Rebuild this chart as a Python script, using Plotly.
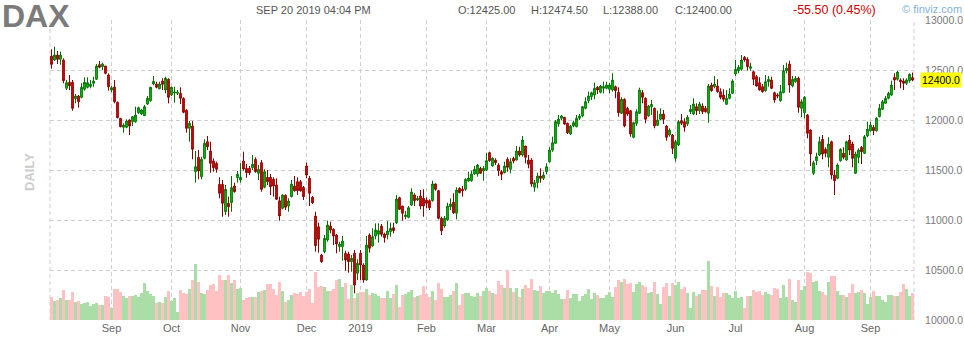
import pandas as pd
import plotly.graph_objects as go

# ---------------- data ----------------
holidays = ["2018-12-24", "2018-12-25", "2018-12-26", "2019-01-01",
            "2019-04-19", "2019-04-22", "2019-05-01"]
dates = [d.strftime("%Y-%m-%d") for d in pd.bdate_range("2018-08-06", "2019-09-20")
         if d.strftime("%Y-%m-%d") not in holidays]

opens = [12640,12600,12650,12607,12600,12317,12377,12377,12213,12240,
12227,12307,12327,12337,12367,12407,12553,12533,12540,12450,
12300,12330,12177,12017,11927,11927,12000,11983,11983,12073,
12060,12043,12160,12193,12360,12360,12313,12390,12300,12407,
12250,12270,12267,12267,12217,12097,11917,11940,11483,11627,
11433,11617,11783,11690,11590,11567,11357,11357,11083,11167,
11173,11340,11423,11400,11590,11517,11517,11523,11607,11467,
11573,11327,11427,11427,11407,11350,11193,11117,11247,11140,
11233,11340,11383,11383,11327,11540,11417,11227,11040,10933,
10650,10683,10800,10940,10907,10850,10733,10733,10667,10660,
10583,10667,10467,10667,10550,10400,10850,10740,10840,10857,
10940,10860,10850,10883,10923,10973,11223,11140,11033,11027,
11150,11250,11200,11240,11217,11200,11193,11193,11360,11293,
11017,10940,11000,11133,11177,11067,11317,11307,11307,11390,
11393,11460,11460,11517,11490,11500,11673,11540,11600,11550,
11483,11473,11607,11507,11617,11600,11690,11650,11740,11600,
11600,11327,11373,11440,11417,11483,11583,11700,11767,11960,
12017,12027,11967,11860,11940,11933,12017,12040,12117,12193,
12233,12250,12327,12277,12317,12317,12307,12300,12333,12277,
12067,12207,12117,12093,11827,11967,12067,12273,12217,12040,
12133,12117,11947,12007,12060,11940,11850,11850,11617,11750,
11993,11983,11960,12083,12060,12133,12093,12140,12117,12067,
12350,12333,12340,12283,12250,12157,12217,12267,12460,12493,
12507,12627,12607,12517,12483,12433,12373,12333,12293,12383,
12400,12273,12250,12193,12273,12493,12560,12340,12383,12417,
12117,12073,12050,11900,11467,11593,11650,11807,11707,11627,
11783,11450,11417,11593,11667,11600,11800,11760,11467,11627,
11727,11667,11840,11893,11927,11893,12033,12107,12167,12217,
12250,12427,12407,12400,12390,12367,12393,12425]

highs = [12707,12733,12690,12683,12617,12400,12450,12400,12260,12250,
12367,12427,12427,12400,12433,12560,12590,12573,12540,12467,
12340,12400,12183,12017,11967,12007,12007,12040,12133,12133,
12110,12150,12240,12333,12440,12383,12383,12417,12433,12417,
12333,12333,12300,12327,12227,12107,11990,11990,11690,11700,
11633,11807,11840,11783,11617,11583,11427,11400,11350,11233,
11440,11373,11490,11567,11683,11560,11540,11650,11627,11550,
11600,11507,11500,11460,11427,11417,11233,11257,11257,11217,
11400,11440,11427,11400,11340,11573,11440,11240,11083,10973,
10660,10850,10993,10983,10917,10860,10783,10840,10693,10683,
10650,10700,10607,10700,10567,10840,10867,10917,10967,10967,
10960,10873,10990,10973,10973,11250,11233,11140,11090,11140,
11317,11267,11240,11300,11307,11227,11207,11393,11367,11300,
11033,11040,11173,11217,11267,11327,11327,11340,11417,11483,
11493,11540,11560,11533,11540,11673,11683,11627,11617,11567,
11500,11583,11627,11617,11633,11740,11733,11840,11740,11650,
11617,11400,11473,11517,11483,11567,11727,11833,12000,12050,
12050,12027,11973,11950,11993,12050,12060,12140,12227,12283,
12283,12373,12340,12350,12383,12383,12373,12467,12343,12327,
12227,12217,12133,12100,11983,12107,12323,12300,12227,12150,
12200,12123,12093,12117,12100,11950,11917,11860,11800,12000,
12060,12017,12050,12150,12217,12167,12183,12167,12140,12360,
12373,12440,12407,12317,12307,12300,12317,12407,12600,12550,
12650,12640,12627,12573,12493,12450,12427,12360,12450,12440,
12433,12283,12267,12350,12550,12573,12593,12440,12440,12433,
12207,12240,12060,11907,11593,11673,11833,11850,11727,11827,
11793,11500,11567,11717,11727,11793,11850,11783,11683,11717,
11740,11850,11983,11983,11950,12027,12160,12200,12240,12283,
12393,12467,12490,12417,12417,12417,12467,12474.5]

lows = [12513,12593,12560,12553,12367,12300,12300,12093,12167,12123,
12217,12293,12317,12317,12333,12400,12517,12500,12457,12293,
12277,12167,12017,11927,11873,11917,11850,11940,11973,12060,
12050,12040,12150,12183,12347,12317,12307,12300,12267,12167,
12240,12173,12250,12160,12067,11873,11783,11607,11373,11407,
11407,11607,11700,11473,11483,11473,11217,11033,11050,11033,
11083,11273,11373,11373,11493,11423,11450,11500,11473,11400,
11283,11317,11350,11250,11233,11200,10993,11107,11100,11083,
11227,11283,11250,11283,11200,11417,11140,11160,10683,10673,
10573,10667,10783,10867,10750,10667,10683,10593,10493,10473,
10483,10267,10400,10400,10373,10393,10673,10733,10807,10773,
10833,10773,10807,10833,10867,10960,11100,10993,11007,11017,
11140,11140,11190,11107,11033,11117,11100,11183,11293,11007,
10850,10923,10993,11100,11060,11007,11267,11233,11293,11383,
11383,11450,11433,11460,11393,11493,11583,11533,11550,11440,
11400,11467,11483,11467,11567,11593,11633,11633,11567,11517,
11333,11283,11317,11373,11400,11457,11573,11683,11760,11933,
12000,11950,11860,11850,11927,11927,12000,12027,12107,12167,
12200,12207,12260,12267,12267,12307,12267,12283,12217,12033,
12060,11927,12040,11833,11817,11940,12060,12167,11967,12033,
12050,11917,11940,12000,11960,11793,11833,11660,11583,11740,
11950,11883,11940,12060,12050,12050,12060,12060,12073,11973,
12283,12317,12273,12207,12183,12150,12207,12260,12440,12467,
12493,12583,12493,12493,12350,12333,12293,12273,12283,12333,
12307,12173,12217,12183,12267,12467,12273,12327,12373,12073,
12027,12017,11817,11540,11450,11550,11640,11607,11627,11527,
11407,11250,11407,11583,11607,11593,11650,11527,11460,11567,
11560,11660,11827,11883,11850,11883,12027,12100,12160,12207,
12240,12300,12393,12317,12300,12350,12373,12388]

closes = [12557,12650,12607,12650,12393,12373,12343,12117,12240,12183,
12327,12377,12373,12357,12390,12540,12527,12560,12467,12333,
12323,12183,12023,11933,11950,11990,11940,12033,12050,12123,
12100,12133,12217,12327,12387,12327,12360,12357,12417,12227,
12327,12280,12277,12217,12077,11917,11967,11707,11533,11490,
11607,11767,11733,11567,11523,11507,11267,11167,11307,11133,
11323,11283,11457,11427,11510,11473,11473,11557,11483,11507,
11307,11483,11383,11333,11340,11207,11040,11250,11127,11190,
11360,11293,11293,11293,11233,11450,11267,11173,10743,10807,
10583,10817,10950,10900,10840,10760,10760,10790,10600,10583,
10617,10350,10567,10550,10400,10750,10717,10833,10900,10893,
10857,10823,10890,10917,10893,11210,11107,11067,11050,11123,
11280,11193,11217,11140,11140,11167,11123,11360,11307,11017,
10893,11017,11140,11160,11073,11300,11273,11293,11407,11420,
11460,11507,11550,11467,11517,11593,11593,11617,11573,11493,
11457,11540,11527,11583,11590,11690,11650,11800,11627,11557,
11360,11373,11440,11417,11450,11533,11700,11773,11983,12010,
12040,11960,11873,11940,11973,12017,12040,12133,12183,12240,
12273,12317,12300,12340,12333,12350,12350,12400,12293,12073,
12207,11940,12060,11860,11973,12083,12300,12227,12007,12140,
12157,11940,12000,12060,12007,11827,11900,11717,11783,11983,
11967,11927,12027,12107,12160,12093,12160,12083,12083,12340,
12293,12360,12283,12227,12207,12217,12260,12390,12507,12527,
12600,12600,12533,12533,12407,12340,12300,12283,12383,12407,
12317,12200,12240,12283,12493,12520,12350,12407,12417,12127,
12183,12227,11867,11660,11573,11633,11783,11660,11667,11760,
11450,11393,11550,11707,11627,11783,11700,11617,11660,11700,
11683,11833,11907,11950,11893,12017,12117,12183,12217,12267,
12350,12400,12480,12383,12367,12400,12455.5,12400]

volumes_k = [23,19,20,22,30,20,20,28,18,19,
16,17,18,14,16,17,15,15,24,23,
12,31,31,28,24,22,24,24,25,23,
27,37,29,26,24,17,18,17,23,29,
19,22,8,30,27,26,31,40,56,38,
27,26,30,35,36,29,45,40,40,45,
37,40,31,32,20,22,23,23,23,28,
29,30,36,36,31,25,38,29,18,20,
25,27,26,28,24,28,31,17,48,33,
34,33,29,29,31,40,41,33,37,21,
35,22,27,28,28,31,25,27,26,24,
22,22,29,22,26,35,13,25,26,28,
30,23,24,25,34,26,23,29,20,37,
31,23,23,25,29,37,15,26,27,27,
24,23,27,24,29,32,29,27,26,39,
35,32,50,32,28,32,23,31,35,32,
41,30,29,34,27,29,29,27,30,26,
21,21,30,22,26,26,19,24,26,31,
21,27,25,22,22,25,28,23,33,40,
38,41,36,37,28,36,38,35,33,27,
28,38,26,16,33,37,24,37,35,38,
31,33,27,12,28,24,26,30,30,59,
34,24,33,23,27,27,25,22,29,22,
23,12,24,24,30,28,29,25,28,26,
25,32,31,22,35,23,41,20,18,40,
30,34,48,47,38,39,29,28,25,38,
44,44,29,25,25,23,27,36,27,28,
30,27,16,23,29,24,24,20,18,25,
25,24,24,28,36,31,24,27]

month_labels = ["Sep", "Oct", "Nov", "Dec", "2019", "Feb", "Mar", "Apr",
                "May", "Jun", "Jul", "Aug", "Sep"]
price_ticks = [10000, 10500, 11000, 11500, 12000, 12500, 13000]

header_date = "SEP 20 2019 04:04 PM"
last_o, last_h, last_l, last_c = 12425.00, 12474.50, 12388.00, 12400.00
change, change_pct = -55.50, 0.45

# ---------------- figure ----------------
month_starts = [d for i, d in enumerate(dates) if i > 0 and d[:7] != dates[i - 1][:7]]

W, H = 964, 340
ML, MR, MT, MB = 50, 50, 20, 20
PW, PH = W - ML - MR, H - MT - MB


def px(x):
    return (x - ML) / PW


def py(y):
    return (H - MB - y) / PH


GRID = "#cfcfcf"
DASH = "4px,3px"
FONT = "Liberation Sans, Arial, sans-serif"

vol_colors = ["#aadea6" if c >= o else "#ffc1c1" for o, c in zip(opens, closes)]

fig = go.Figure()
fig.add_trace(go.Bar(x=dates, y=volumes_k, marker=dict(color=vol_colors, line=dict(width=0)),
                     yaxis="y", hoverinfo="skip", showlegend=False))
fig.add_trace(go.Candlestick(
    x=dates, open=opens, high=highs, low=lows, close=closes, yaxis="y2",
    increasing=dict(line=dict(color="#006e00", width=1), fillcolor="#00d400"),
    decreasing=dict(line=dict(color="#8a0000", width=1), fillcolor="#ee0000"),
    whiskerwidth=0, showlegend=False))

fig.update_layout(
    template="none",
    width=W, height=H, margin=dict(l=ML, r=MR, t=MT, b=MB, pad=0, autoexpand=False),
    paper_bgcolor="white", plot_bgcolor="white",
    bargap=0, boxgap=0.2,
    font=dict(family=FONT, size=11, color="#666666"),
    xaxis=dict(type="category", categoryorder="array", categoryarray=dates,
               range=[-0.5, len(dates) - 0.5], automargin=False,
               tickmode="array", tickvals=month_starts, ticktext=month_labels,
               showgrid=True, gridcolor=GRID, griddash=DASH, gridwidth=1,
               ticks="", showline=False, zeroline=False,
               tickfont=dict(family=FONT, size=11, color="#666666"),
               rangeslider=dict(visible=False), fixedrange=True),
    yaxis=dict(range=[0, 300], visible=False, showgrid=False, fixedrange=True,
               automargin=False),
    yaxis2=dict(overlaying="y", side="right", range=[10000, 13000], automargin=False,
                tickmode="array", tickvals=price_ticks,
                ticktext=[f"{v:.1f}" for v in price_ticks],
                showgrid=True, gridcolor=GRID, griddash=DASH, gridwidth=1,
                ticks="outside", ticklen=8, tickcolor="rgba(0,0,0,0)",
                showline=False, zeroline=False,
                tickfont=dict(family=FONT, size=10.5, color="#7a7a7a"), fixedrange=True),
    showlegend=False,
)

# dashed left and right border
for xx in (0, 1):
    fig.add_shape(type="line", xref="paper", yref="paper", x0=xx, x1=xx, y0=0, y1=1,
                  line=dict(color=GRID, width=1, dash=DASH), layer="below")

ann = []
ann.append(dict(text="<b>DAX</b>", x=px(1), y=py(-3), xanchor="left", yanchor="top",
                borderpad=0, font=dict(family=FONT, size=32, color="#7b7b7b")))
ann.append(dict(text="<b>DAILY</b>", x=px(30), y=py(172), xanchor="center", yanchor="middle",
                textangle=-90, font=dict(family=FONT, size=13, color="#cccccc")))
ann.append(dict(text=header_date, x=px(254), y=py(10), xanchor="left", yanchor="middle",
                font=dict(family=FONT, size=11, color="#555555")))
for lab, val, xpos in (("O", last_o, 456), ("H", last_h, 529), ("L", last_l, 601), ("C", last_c, 673)):
    ann.append(dict(text=f"{lab}:{val:.2f}", x=px(xpos), y=py(10), xanchor="left", yanchor="middle",
                    font=dict(family=FONT, size=11, color="#555555")))
ann.append(dict(text=f"{change:.2f} ({change_pct:.2f}%)", x=px(791), y=py(10),
                xanchor="left", yanchor="middle",
                font=dict(family=FONT, size=12.5, color="#cc0000")))
ann.append(dict(text="© finviz.com", x=px(900), y=py(9), xanchor="left", yanchor="middle",
                font=dict(family=FONT, size=11, color="#7fb2de")))
ann.append(dict(text=f"{last_c:.1f}", xref="paper", yref="y2", x=px(920), y=last_c,
                xanchor="left", yanchor="middle", bgcolor="#ffff00", borderpad=1,
                font=dict(family=FONT, size=10.5, color="#000000")))

for a in ann:
    a.setdefault("xref", "paper")
    a.setdefault("yref", "paper")
    a["showarrow"] = False
fig.update_layout(annotations=ann)

fig.write_html("out.html")
